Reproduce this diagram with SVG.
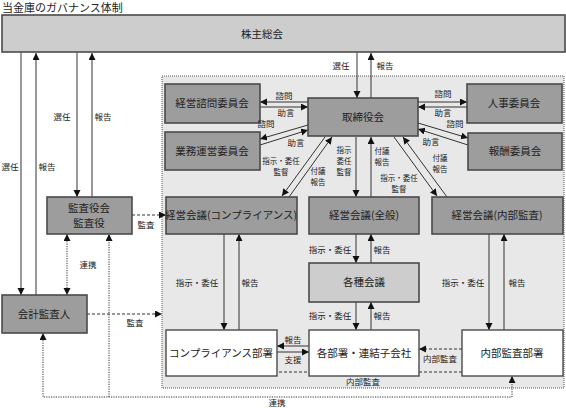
<svg xmlns="http://www.w3.org/2000/svg" width="566" height="408" viewBox="0 0 566 408">
<defs>
<marker id="a" markerUnits="userSpaceOnUse" markerWidth="8" markerHeight="8" refX="7" refY="3.5" orient="auto-start-reverse"><path d="M0,0 L7,3.5 L0,7 z" fill="#111"/></marker>
<style>
text{font-family:"Noto Sans CJK JP","Noto Sans",sans-serif;fill:#222;text-anchor:middle}
.t{font-size:10.5px}
.l{font-size:8.5px}
.m{font-size:7.5px}
.dk{fill:#9d9d9d;stroke:#4a4a4a;stroke-width:1.6}
.lt{fill:#cdcdcd;stroke:#4a4a4a;stroke-width:1.6}
.wh{fill:#ffffff;stroke:#4a4a4a;stroke-width:1.4}
.c{stroke:#333;stroke-width:1;fill:none}
.e{marker-end:url(#a)}
.s{marker-start:url(#a)}
.ds{stroke-dasharray:3,2}
.dt{stroke-dasharray:1.2,1.2}
</style>
</defs>
<rect width="566" height="408" fill="#fff"/>
<text x="2" y="12" style="font-size:11px;text-anchor:start">当金庫のガバナンス体制</text>
<rect id="region" x="162" y="76" width="402" height="312" fill="#e8e8e8" stroke="#555" stroke-width="1" stroke-dasharray="1,1"/>

<g id="connectors">
<line class="c e" x1="21" y1="53" x2="21" y2="295"/>
<line class="c e" x1="36" y1="295" x2="36" y2="53"/>
<line class="c e" x1="77" y1="53" x2="77" y2="197"/>
<line class="c e" x1="92" y1="197" x2="92" y2="53"/>
<line class="c e" x1="357" y1="53" x2="357" y2="98"/>
<line class="c e" x1="371" y1="98" x2="371" y2="53"/>
<line class="c e" x1="308" y1="102" x2="260" y2="102"/>
<line class="c e" x1="260" y1="107" x2="308" y2="107"/>
<line class="c e" x1="308" y1="125" x2="260" y2="139"/>
<line class="c e" x1="260" y1="145" x2="308" y2="130"/>
<line class="c e" x1="418" y1="102" x2="467" y2="102"/>
<line class="c e" x1="467" y1="107" x2="418" y2="107"/>
<line class="c e" x1="418" y1="123" x2="468" y2="138"/>
<line class="c e" x1="468" y1="145" x2="418" y2="129"/>
<line class="c e" x1="325" y1="137" x2="282" y2="196"/>
<line class="c e" x1="289" y1="197" x2="332" y2="137"/>
<line class="c e" x1="356" y1="137" x2="356" y2="197"/>
<line class="c e" x1="371" y1="197" x2="371" y2="137"/>
<line class="c e" x1="394" y1="137" x2="437" y2="196"/>
<line class="c e" x1="447" y1="197" x2="403" y2="137"/>
<line class="c e" x1="224" y1="234" x2="224" y2="330"/>
<line class="c e" x1="239" y1="330" x2="239" y2="234"/>
<line class="c e" x1="356" y1="234" x2="356" y2="263"/>
<line class="c e" x1="371" y1="263" x2="371" y2="234"/>
<line class="c e" x1="356" y1="302" x2="356" y2="330"/>
<line class="c e" x1="371" y1="330" x2="371" y2="302"/>
<line class="c e" x1="489" y1="234" x2="489" y2="330"/>
<line class="c e" x1="504" y1="330" x2="504" y2="234"/>
<line class="c e" x1="309" y1="346" x2="277" y2="346"/>
<line class="c e" x1="277" y1="352" x2="309" y2="352"/>
<line class="c e ds" x1="462" y1="349" x2="419" y2="349"/>
<line class="c ds" x1="462" y1="372" x2="277" y2="372"/>
<line class="c e ds" x1="132" y1="215" x2="166" y2="215"/>
<line class="c e ds" x1="87" y1="314" x2="162" y2="314"/>
<line class="c e s dt" x1="67" y1="234" x2="67" y2="295"/>
<polyline class="c e s dt" points="43,333 43,397 512,397 512,376"/>
<line class="c e dt" x1="109" y1="397" x2="109" y2="234"/>
</g>

<g id="n-kabunushi"><rect class="lt" x="2" y="15" width="563" height="37"/><text class="t" x="262" y="38">株主総会</text></g>
<g id="n-keieishimon"><rect class="dk" x="165" y="84" width="95" height="39"/><text class="t" x="212" y="107">経営諮問委員会</text></g>
<g id="n-gyomu"><rect class="dk" x="165" y="132" width="95" height="38"/><text class="t" x="212" y="155">業務運営委員会</text></g>
<g id="n-torishimari"><rect class="dk" x="308" y="98" width="110" height="38"/><text class="t" x="363" y="121">取締役会</text></g>
<g id="n-jinji"><rect class="dk" x="467" y="84" width="95" height="39"/><text class="t" x="514" y="107">人事委員会</text></g>
<g id="n-hoshu"><rect class="dk" x="468" y="133" width="94" height="37"/><text class="t" x="515" y="155">報酬委員会</text></g>
<g id="n-kansayaku"><rect class="dk" x="47" y="197" width="85" height="37"/><text class="t" x="89" y="212">監査役会<tspan x="89" dy="15">監査役</tspan></text></g>
<g id="n-comp"><rect class="dk" x="166" y="197" width="131" height="37"/><text class="t" x="231" y="219">経営会議(コンプライアンス)</text></g>
<g id="n-zenpan"><rect class="dk" x="309" y="197" width="110" height="37"/><text class="t" x="364" y="219">経営会議(全般)</text></g>
<g id="n-naibu"><rect class="dk" x="432" y="197" width="131" height="37"/><text class="t" x="497" y="219">経営会議(内部監査)</text></g>
<g id="n-kakushu"><rect class="lt" x="309" y="263" width="110" height="39"/><text class="t" x="364" y="286">各種会議</text></g>
<g id="n-kaikei"><rect class="dk" x="2" y="295" width="85" height="38"/><text class="t" x="44" y="318">会計監査人</text></g>
<g id="n-compdept"><rect class="wh" x="166" y="330" width="111" height="46"/><text class="t" x="221" y="357">コンプライアンス部署</text></g>
<g id="n-kakubusho"><rect class="wh" x="309" y="330" width="110" height="46"/><text class="t" x="364" y="357">各部署・連結子会社</text></g>
<g id="n-naibudept"><rect class="wh" x="462" y="330" width="101" height="46"/><text class="t" x="512" y="357">内部監査部署</text></g>

<g id="labels">
<text class="l" x="341" y="69">選任</text><text class="l" x="385" y="69">報告</text>
<text class="l" x="10" y="170">選任</text><text class="l" x="47" y="170">報告</text>
<text class="l" x="62" y="120">選任</text><text class="l" x="103" y="120">報告</text>
<text class="l" x="284" y="99">諮問</text><text class="l" x="286" y="116">助言</text>
<text class="l" x="266" y="127">諮問</text><text class="l" x="296" y="146">助言</text>
<text class="l" x="443" y="97">諮問</text><text class="l" x="443" y="116">助言</text>
<text class="l" x="455" y="127">諮問</text><text class="l" x="431" y="145">助言</text>
<text class="m" x="281" y="164">指示・委任<tspan x="281" dy="11">監督</tspan></text>
<text class="m" x="318" y="174">付議<tspan x="318" dy="11">報告</tspan></text>
<text class="m" x="344" y="153">指示<tspan x="344" dy="11">委任</tspan><tspan x="344" dy="11">監督</tspan></text>
<text class="m" x="382" y="154">付議<tspan x="382" dy="11">報告</tspan></text>
<text class="m" x="399" y="181">指示・委任<tspan x="399" dy="11">監督</tspan></text>
<text class="m" x="440" y="161">付議<tspan x="440" dy="11">報告</tspan></text>
<text class="l" x="146" y="228">監査</text>
<text class="l" x="88" y="268">連携</text>
<text class="l" x="135" y="326">監査</text>
<text class="l" x="197" y="286">指示・委任</text><text class="l" x="250" y="286">報告</text>
<text class="l" x="330" y="253">指示・委任</text><text class="l" x="382" y="253">報告</text>
<text class="l" x="330" y="319">指示・委任</text><text class="l" x="382" y="319">報告</text>
<text class="l" x="463" y="286">指示・委任</text><text class="l" x="517" y="286">報告</text>
<text class="l" x="293" y="343">報告</text><text class="l" x="293" y="363">支援</text>
<text class="l" x="440" y="362">内部監査</text>
<text class="l" x="363" y="385">内部監査</text>
<text class="l" x="277" y="406">連携</text>
</g>
</svg>
